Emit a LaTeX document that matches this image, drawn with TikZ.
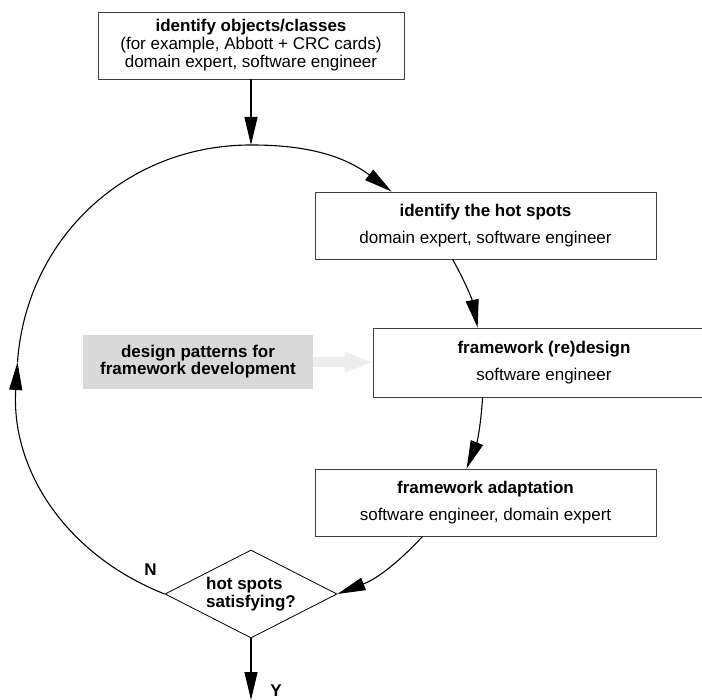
\documentclass[tikz,border=0pt]{standalone}
\usepackage{fontspec}
\setmainfont{Liberation Sans}
\usetikzlibrary{arrows.meta,shapes.geometric}
\begin{document}
\begin{tikzpicture}
    [
        x=1pt, y=-1pt,
        activity/.style={draw=black!75, line width=0.8pt, align=center, inner sep=0pt,
            minimum width=341pt, minimum height=67pt, font=\fontsize{17}{27}\selectfont,},
        decision/.style={diamond, draw, line width=0.8pt, aspect=1.95, inner sep=0pt,
            minimum width=172pt, minimum height=88pt, align=left,
            font=\bfseries\fontsize{17}{18}\selectfont,},
        hint/.style={fill=black!15, align=center, inner sep=0pt,
            minimum width=230pt, minimum height=54pt, font=\bfseries\fontsize{17}{17}\selectfont,},
        answer/.style={font=\bfseries\fontsize{17}{17}\selectfont,},
        edge/.style={-{Triangle[length=28pt,width=13pt]}, line width=1.1pt,},
        loopline/.style={line width=1.1pt,},
        hintedge/.style={-{Triangle[length=28pt,width=19pt]}, line width=10pt, black!7,},
    ]
    \useasboundingbox (0,0) rectangle (702,700);

    % development cycle
    \node (objects) at (251,45.5) [activity, minimum width=306pt, font=\fontsize{17}{18}\selectfont]
        {\textbf{identify objects/classes}\\(for example, Abbott + CRC cards)\\domain expert, software engineer};
    \node (hotspots) at (485.5,225.5) [activity]
        {\textbf{identify the hot spots}\\domain expert, software engineer};
    \node (redesign) at (544,362.5) [activity, minimum width=342pt, minimum height=69pt]
        {\textbf{framework (re)design}\\software engineer};
    \node (adapt) at (485.5,502.5) [activity]
        {\textbf{framework adaptation}\\software engineer, domain expert};
    \node (check) at (251,594) [decision] {hot spots\\satisfying?};
    \node (patterns) at (198,362) [hint] {design patterns for\\framework development};

    \coordinate (join) at (251,145);
    \coordinate (left) at (17.5,362);
    \coordinate (exit) at (251,700);

    \node (no) at (150.5,570) [answer] {N};
    \node (yes) at (276,691) [answer] {Y};

    \draw [edge] (objects) -- (join);
    \draw [edge] (join) to[bend left=18.5] ([xshift=77pt]hotspots.north west);
    \draw [edge] ([xshift=138pt]hotspots.south west) to[bend left=9] ([xshift=105pt]redesign.north west);
    \draw [edge] ([xshift=110pt]redesign.south west) to[bend left=9] ([xshift=152pt]adapt.north west);
    \draw [edge] ([xshift=108pt]adapt.south west) to[bend left=13] (check.east);
    \draw [edge] (check.west) to[bend left=36] (left);
    \draw [loopline] (left) to[bend left=43] (join);
    \draw [edge] (check) -- (exit);
    \draw [hintedge] (patterns) -- (redesign);

\end{tikzpicture}
\end{document}
